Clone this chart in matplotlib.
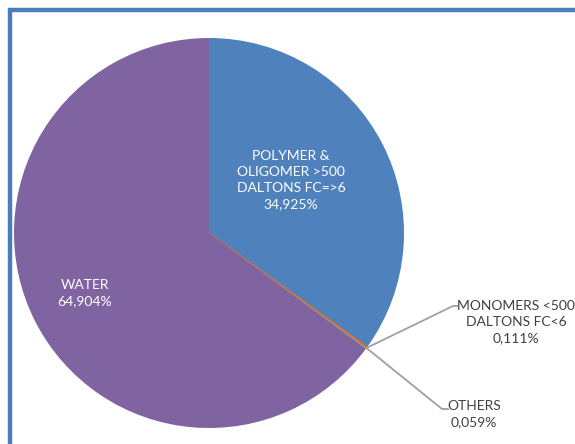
import matplotlib.pyplot as plt
import numpy as np

labels = ["POLYMER &\nOLIGOMER >500\nDALTONS FC=>6", "MONOMERS <500\nDALTONS FC<6", "OTHERS", "WATER"]
shares = [34.925, 0.111, 0.059, 64.904]
colors = ["#4F81BD", "#C0504D", "#9BBB59", "#8064A2"]

W, H = 575, 444
fig = plt.figure(figsize=(W / 100, H / 100), dpi=100)
ax = fig.add_axes([0, 0, 1, 1])

cx, cy, r = 209, H - 233, 195
wedges, _ = ax.pie(shares, colors=colors, startangle=90, counterclock=False,
                   center=(cx, cy), radius=r,
                   wedgeprops=dict(linewidth=0))
# the two thin slices only show as a hairline between the big ones
wedges[1].set_edgecolor("#CF6E3E")
wedges[1].set_linewidth(0.9)

ax.set_xlim(0, W)
ax.set_ylim(0, H)
ax.set_aspect("equal", adjustable="box")
ax.axis("off")

# frame around the chart area, running off the right and bottom edges
ax.plot([10, 10, W + 5], [-5, H - 10, H - 10], color="#4A7EBB", lw=3.2,
        solid_joinstyle="miter", clip_on=False)

font = dict(family="Lato", fontsize=10, linespacing=1.42)


def pct(v):
    return f"{v:.3f}%".replace(".", ",")


# labels inside the two big slices
ax.text(291, H - 180, f"{labels[0]}\n{pct(shares[0])}", color="white",
        ha="center", va="center", **font)
ax.text(85, H - 293, f"{labels[3]}\n{pct(shares[3])}", color="white",
        ha="center", va="center", **font)

# leader lines to the tiny slices, starting where they touch the rim
ang = np.deg2rad(wedges[1].theta1)
px, py = cx + r * np.cos(ang), cy + r * np.sin(ang)
grey = "#A0A0A0"
ax.plot([px, 453, 458], [py, H - 306, H - 306], color=grey, lw=1.3)
ax.plot([px, 442, 448], [py, H - 409, H - 409], color=grey, lw=1.3)

ax.text(516, H - 322, f"{labels[1]}\n{pct(shares[1])}", color="#404040",
        ha="center", va="center", **font)
ax.text(474, H - 414, f"{labels[2]}\n{pct(shares[2])}", color="#404040",
        ha="center", va="center", **font)

fig.savefig("out.png", dpi=100)
